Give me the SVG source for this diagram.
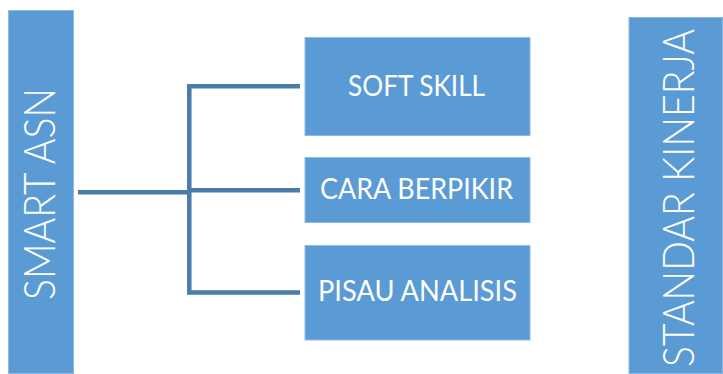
<svg xmlns="http://www.w3.org/2000/svg" width="723" height="374" viewBox="0 0 723 374">
<style>
.box{fill:#5B9BD5;stroke:#8DB9E3;stroke-width:1}
.lbl{fill:#FFFFFF;font-family:Lato,"Open Sans","Liberation Sans",sans-serif;font-size:28.5px;text-anchor:middle}
.big{fill:#FFFFFF;font-family:Lato,"Open Sans","Liberation Sans",sans-serif;font-size:43px;font-weight:300;text-anchor:middle}
.con{fill:none;stroke:#4A7BAA;stroke-width:4.5;stroke-linecap:butt;stroke-linejoin:miter}
</style>
<rect width="723" height="374" fill="#FFFFFF"/>
<g id="connectors">
<path class="con" d="M78 192.3 H189"/>
<path class="con" d="M300 86.3 H189.3 V292.5 H300"/>
<path class="con" d="M189 190.2 H300"/>
</g>
<g id="smart-asn">
<rect class="box" x="8.5" y="10.5" width="65" height="363"/>
<text class="big" transform="translate(55,194) rotate(-90)" textLength="212" lengthAdjust="spacingAndGlyphs">SMART ASN</text>
</g>
<g id="soft-skill">
<rect class="box" x="305" y="37.5" width="225" height="98"/>
<text class="lbl" x="416.5" y="96" textLength="137" lengthAdjust="spacingAndGlyphs">SOFT SKILL</text>
</g>
<g id="cara-berpikir">
<rect class="box" x="305" y="157.5" width="225" height="65"/>
<text class="lbl" x="416.5" y="199" textLength="193" lengthAdjust="spacingAndGlyphs">CARA BERPIKIR</text>
</g>
<g id="pisau-analisis">
<rect class="box" x="305" y="245.5" width="225" height="94.5"/>
<text class="lbl" x="417.5" y="301" textLength="199" lengthAdjust="spacingAndGlyphs">PISAU ANALISIS</text>
</g>
<g id="standar-kinerja">
<rect class="box" x="629" y="17.5" width="93.5" height="356"/>
<text class="big" transform="translate(694,198) rotate(-90)" textLength="338" lengthAdjust="spacingAndGlyphs">STANDAR KINERJA</text>
</g>
</svg>
